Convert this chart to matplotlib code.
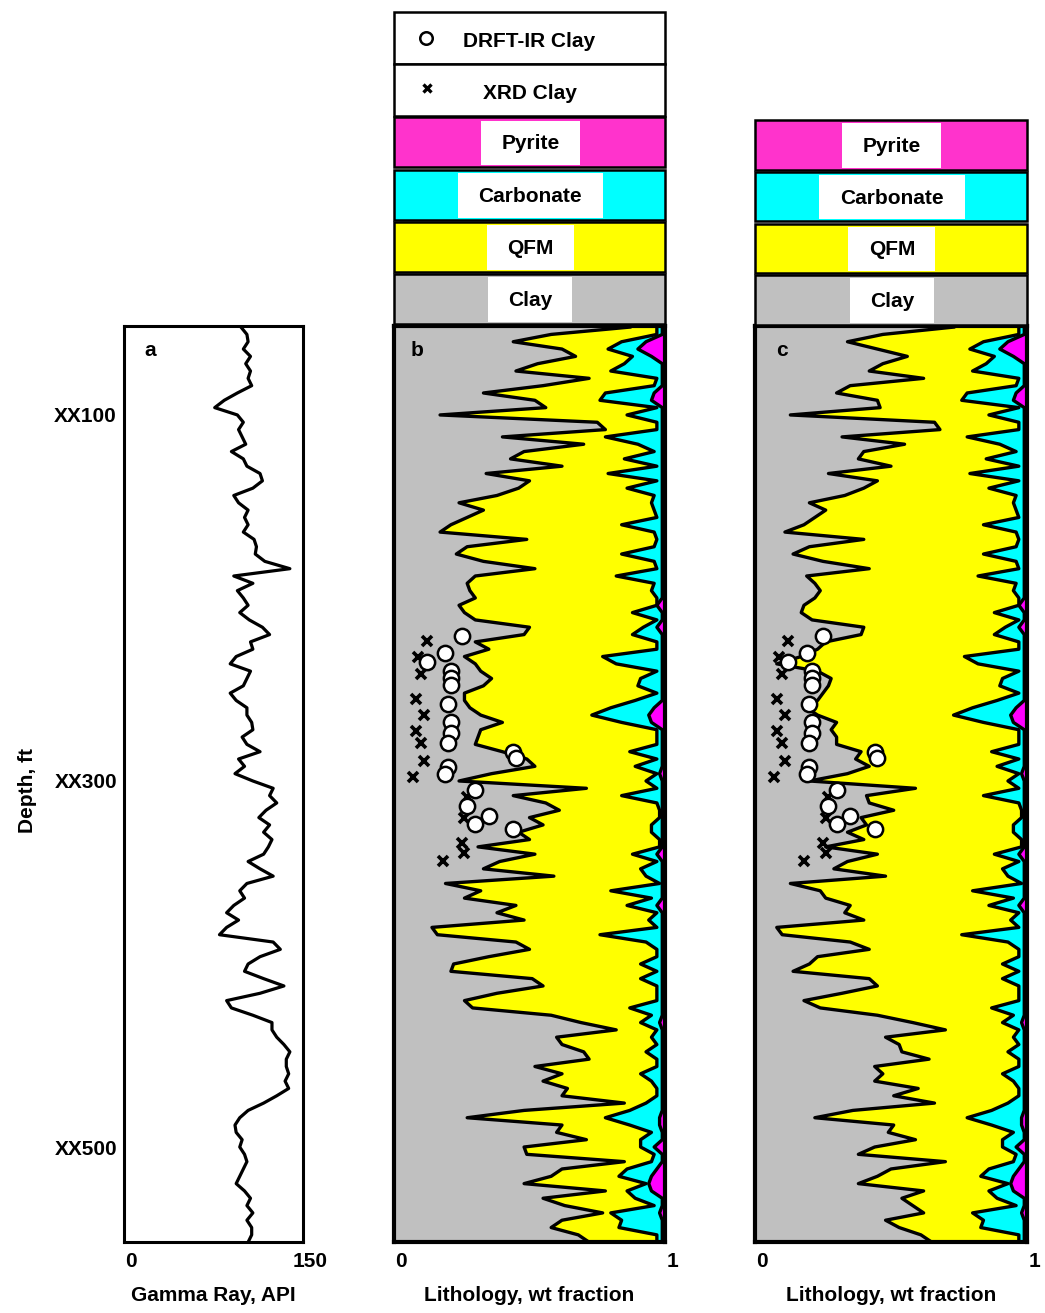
import numpy as np
import matplotlib.pyplot as plt
import matplotlib.transforms as mtransforms
from matplotlib.patches import Rectangle

plt.rcParams['font.family'] = ['Liberation Sans', 'DejaVu Sans']
plt.rcParams['font.weight'] = 'bold'

# depth samples (ft below XX000), every 4 ft
depth = np.arange(52, 553, 4)

gamma_ray = [98, 103, 104, 100, 106, 102, 106, 104, 107, 95, 84, 76, 95, 100, 96, 99, 102, 90, 100, 103,
             114, 116, 108, 92, 96, 104, 101, 104, 100, 109, 111, 110, 118, 139, 92, 108, 95, 100, 104, 97,
             105, 116,
             122, 106, 108, 94, 89, 106, 103, 100, 89, 94, 103, 103, 107, 108, 99, 103, 114, 96, 101, 93,
             108, 125, 122, 128, 119, 113, 122, 117, 124, 121, 117, 104, 114, 125, 103, 97, 101, 92, 86, 96,
             86, 80,
             125, 131, 114, 104, 101, 117, 134, 114, 86, 90, 108, 124, 124, 128, 134, 139, 136, 136, 138, 135,
             138, 128, 117, 104, 97, 93, 94, 99, 97, 101, 103, 100, 97, 94, 101, 106, 103, 108, 103, 107,
             107, 104]

# cumulative lithology boundaries (wt fraction)
clay_b = [0.87, 0.58, 0.44, 0.62, 0.67, 0.53, 0.45, 0.72, 0.55, 0.33, 0.52, 0.56, 0.17, 0.75, 0.78, 0.40,
          0.70, 0.48, 0.43, 0.62, 0.34, 0.50, 0.46, 0.38, 0.24, 0.33, 0.27, 0.21, 0.17, 0.49, 0.27, 0.23,
          0.33, 0.52, 0.30, 0.27, 0.28, 0.30, 0.24, 0.26, 0.30, 0.50,
          0.48, 0.30, 0.35, 0.26, 0.30, 0.32, 0.36, 0.33, 0.26, 0.26, 0.28, 0.32, 0.40, 0.32, 0.31, 0.30,
          0.40, 0.49, 0.52, 0.36, 0.24, 0.71, 0.44, 0.56, 0.61, 0.50, 0.55, 0.46, 0.50, 0.31, 0.52, 0.39,
          0.33, 0.59, 0.19, 0.32, 0.26, 0.45, 0.38, 0.48, 0.14, 0.16,
          0.45, 0.50, 0.35, 0.22, 0.21, 0.51, 0.55, 0.38, 0.26, 0.29, 0.58, 0.69, 0.82, 0.60, 0.62, 0.70,
          0.72, 0.52, 0.62, 0.55, 0.64, 0.62, 0.85, 0.48, 0.27, 0.62, 0.60, 0.71, 0.48, 0.49, 0.85, 0.62,
          0.58, 0.48, 0.78, 0.55, 0.63, 0.77, 0.62, 0.58, 0.68, 0.72]

clay_c = [0.73, 0.47, 0.34, 0.45, 0.56, 0.47, 0.42, 0.62, 0.35, 0.30, 0.45, 0.46, 0.13, 0.66, 0.68, 0.32,
          0.55, 0.40, 0.38, 0.50, 0.27, 0.45, 0.40, 0.33, 0.20, 0.26, 0.22, 0.18, 0.11, 0.40, 0.20, 0.14,
          0.25, 0.42, 0.19, 0.22, 0.24, 0.22, 0.18, 0.17, 0.21, 0.40,
          0.39, 0.26, 0.23, 0.17, 0.08, 0.23, 0.28, 0.27, 0.25, 0.23, 0.19, 0.23, 0.30, 0.28, 0.30, 0.30,
          0.39, 0.37, 0.42, 0.34, 0.20, 0.59, 0.41, 0.42, 0.51, 0.39, 0.41, 0.34, 0.40, 0.26, 0.45, 0.34,
          0.29, 0.48, 0.13, 0.24, 0.26, 0.35, 0.33, 0.40, 0.08, 0.10,
          0.35, 0.42, 0.23, 0.20, 0.14, 0.42, 0.45, 0.32, 0.18, 0.24, 0.45, 0.58, 0.70, 0.48, 0.53, 0.54,
          0.64, 0.44, 0.47, 0.44, 0.60, 0.51, 0.66, 0.36, 0.22, 0.51, 0.49, 0.59, 0.44, 0.38, 0.70, 0.50,
          0.45, 0.38, 0.62, 0.54, 0.58, 0.62, 0.48, 0.53, 0.61, 0.65]

qfm_top = [0.97, 0.97, 0.84, 0.79, 0.88, 0.85, 0.80, 0.97, 0.96, 0.78, 0.76, 0.97, 0.86, 0.97, 0.97, 0.78,
           0.90, 0.96, 0.85, 0.97, 0.79, 0.97, 0.86, 0.96, 0.95, 0.96, 0.97, 0.84, 0.96, 0.97, 0.96, 0.84,
           0.96, 0.97, 0.82, 0.96, 0.95, 0.97, 0.97, 0.88, 0.97, 0.92,
           0.88, 0.97, 0.97, 0.77, 0.82, 0.97, 0.91, 0.90, 0.97, 0.89, 0.80, 0.73, 0.84, 0.97, 0.97, 0.97,
           0.87, 0.97, 0.89, 0.97, 0.93, 0.97, 0.84, 0.97, 0.98, 0.98, 0.95, 0.95, 0.98, 0.98, 0.88, 0.97,
           0.91, 0.93, 0.98, 0.80, 0.95, 0.86, 0.97, 0.94, 0.97, 0.76,
           0.93, 0.97, 0.97, 0.91, 0.97, 0.91, 0.97, 0.97, 0.97, 0.87, 0.95, 0.91, 0.97, 0.95, 0.97, 0.93,
           0.97, 0.97, 0.91, 0.95, 0.97, 0.97, 0.93, 0.87, 0.78, 0.87, 0.95, 0.91, 0.91, 0.96, 0.95, 0.86,
           0.83, 0.93, 0.86, 0.89, 0.96, 0.80, 0.84, 0.83, 0.97, 0.97]

carb_top = [0.99, 0.99, 0.93, 0.90, 0.95, 0.99, 0.99, 0.99, 0.99, 0.96, 0.95, 0.99, 0.99, 0.99, 0.99, 0.99,
            0.99, 0.99, 0.99, 0.99, 0.99, 0.99, 0.99, 0.99, 0.99, 0.99, 0.99, 0.99, 0.99, 0.99, 0.99, 0.99,
            0.99, 0.99, 0.99, 0.99, 0.99, 0.99, 0.97, 0.99, 0.99, 0.97,
            0.99, 0.99, 0.99, 0.99, 0.99, 0.99, 0.99, 0.99, 0.99, 0.99, 0.96, 0.94, 0.95, 0.99, 0.99, 0.99,
            0.99, 0.99, 0.99, 0.98, 0.99, 0.99, 0.99, 0.99, 0.99, 0.99, 0.99, 0.99, 0.99, 0.99, 0.97, 0.99,
            0.99, 0.99, 0.99, 0.99, 0.99, 0.97, 0.99, 0.99, 0.99, 0.99,
            0.99, 0.99, 0.99, 0.99, 0.99, 0.99, 0.99, 0.99, 0.99, 0.99, 0.99, 0.98, 0.99, 0.99, 0.99, 0.99,
            0.99, 0.99, 0.99, 0.99, 0.99, 0.99, 0.99, 0.99, 0.98, 0.98, 0.99, 0.99, 0.96, 0.99, 0.99, 0.97,
            0.95, 0.94, 0.95, 0.99, 0.99, 0.98, 0.99, 0.99, 0.99, 0.99]

# core measurements of clay
drft_clay = [0.25, 0.19, 0.12, 0.21, 0.21, 0.21, 0.20, 0.21, 0.21, 0.20, 0.44, 0.45, 0.20, 0.19, 0.30,
             0.27, 0.35, 0.30, 0.44]
drft_depth = [221, 230, 235, 240, 243.5, 247.5, 258, 268, 274, 279, 284, 287.5, 292.5, 296, 305,
              313.5, 319, 323.5, 326]
xrd_clay = [0.12, 0.09, 0.10, 0.08, 0.11, 0.08, 0.10, 0.11, 0.07, 0.27, 0.26, 0.25, 0.26, 0.18]
xrd_depth = [223.5, 232, 241.5, 255, 264, 272.5, 279.5, 289, 298, 308.5, 320, 334, 339.5, 343.5]

W, H = 1045, 1313
fig = plt.figure(figsize=(W / 100, H / 100), dpi=100)


def px_axes(x0, y0, x1, y1):
    return fig.add_axes([x0 / W, 1 - y1 / H, (x1 - x0) / W, (y1 - y0) / H])


shift = mtransforms.ScaledTranslation(0.07, 0, fig.dpi_scale_trans)
GRAY, YEL, CYAN, MAG = '#C0C0C0', '#FFFF00', '#00FFFF', '#FF00FF'
FS = 15


def style(ax, lw, xticks, xlabels, xlabel):
    ax.set_ylim(551.9, 51.4)
    for s in ax.spines.values():
        s.set_linewidth(lw)
    ax.set_xticks(xticks)
    ax.set_xticklabels(xlabels, fontsize=FS, fontweight='bold')
    ax.tick_params(axis='x', length=0, pad=7)
    ax.tick_params(axis='y', length=0, pad=5)
    for lab in ax.get_xticklabels():
        lab.set_transform(lab.get_transform() + shift)
    ax.set_xlabel(xlabel, fontsize=FS, fontweight='bold', labelpad=11)


# ---- panel a: gamma ray
ax_a = px_axes(124, 326, 303, 1242)
ax_a.plot(gamma_ray, depth, color='k', lw=2.3)
ax_a.set_xlim(0, 150)
ax_a.set_yticks([100, 300, 500])
ax_a.set_yticklabels(['XX100', 'XX300', 'XX500'], fontsize=FS, fontweight='bold')
style(ax_a, 2.2, [0, 150], ['0', '150'], 'Gamma Ray, API')
ax_a.set_ylabel('Depth, ft', fontsize=FS, fontweight='bold')
ax_a.yaxis.set_label_coords(-0.488, 0.493)
ax_a.text(0.145, 0.973, 'a', transform=ax_a.transAxes, fontsize=FS, fontweight='bold',
          ha='center', va='center')


# ---- panels b and c: lithology
def litho(ax, clay, tag, tx):
    ax.fill_betweenx(depth, 0, clay, color=GRAY, lw=0)
    ax.fill_betweenx(depth, clay, qfm_top, color=YEL, lw=0)
    ax.fill_betweenx(depth, qfm_top, carb_top, color=CYAN, lw=0)
    ax.fill_betweenx(depth, carb_top, 1, color=MAG, lw=0)
    for edge in (clay, qfm_top, carb_top):
        ax.plot(edge, depth, color='k', lw=2.4)
    ax.plot(xrd_clay, xrd_depth, 'x', color='k', ms=7, mew=2.6, zorder=4)
    ax.plot(drft_clay, drft_depth, 'o', mfc='white', mec='k', ms=11, mew=1.8, zorder=5)
    ax.set_xlim(0, 1)
    ax.set_yticks([])
    style(ax, 3, [0, 1], ['0', '1'], 'Lithology, wt fraction')
    ax.text(tx, 0.973, tag, transform=ax.transAxes, fontsize=FS, fontweight='bold',
            ha='center', va='center')


ax_b = px_axes(394, 326, 665, 1242)
litho(ax_b, clay_b, 'b', 0.085)
ax_c = px_axes(755, 326, 1027, 1242)
litho(ax_c, clay_c, 'c', 0.099)

# ---- legends
legend_names = ['Pyrite', 'Carbonate', 'QFM', 'Clay']
legend_colors = ['#FF33CC', CYAN, YEL, GRAY]
label_widths = [0.365, 0.535, 0.321, 0.31]


def color_rows(ax, start):
    for k, (name, col, w) in enumerate(zip(legend_names, legend_colors, label_widths)):
        r = start + k
        ax.add_patch(Rectangle((0, r + 0.02), 1, 0.96, facecolor=col, edgecolor='k', lw=1.8,
                               clip_on=False))
        ax.add_patch(Rectangle((0.503 - w / 2, r + 0.08), w, 0.86, facecolor='white', lw=0))
        ax.text(0.503, r + 0.53, name, ha='center', va='center', fontsize=FS, fontweight='bold')


leg_b = px_axes(394, 12, 665, 325)
leg_b.set_xlim(0, 1)
leg_b.set_ylim(6, 0)
leg_b.axis('off')
for r, name in enumerate(['DRFT-IR Clay', 'XRD Clay']):
    leg_b.add_patch(Rectangle((0, r), 1, 1, facecolor='white', edgecolor='k', lw=1.8, clip_on=False))
    leg_b.text(0.50, r + 0.56, name, ha='center', va='center', fontsize=FS, fontweight='bold')
leg_b.plot([0.118], [0.5], 'o', mfc='white', mec='k', ms=9, mew=1.8)
leg_b.plot([0.122], [1.46], 'x', color='k', ms=6, mew=2.4)
color_rows(leg_b, 2)

leg_c = px_axes(755, 119, 1027, 326)
leg_c.set_xlim(0, 1)
leg_c.set_ylim(4, 0)
leg_c.axis('off')
color_rows(leg_c, 0)

fig.savefig('out.png', dpi=100)
